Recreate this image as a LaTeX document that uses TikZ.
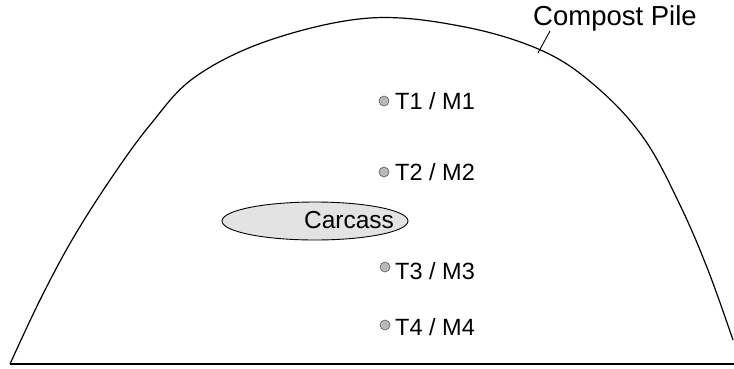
\documentclass[tikz,border=0pt]{standalone}
\usepackage{fontspec}
\setmainfont{Liberation Sans}
\usetikzlibrary{shapes.geometric}
\begin{document}
\begin{tikzpicture}[x=1pt,y=-1pt,
  outline/.style={line width=1.2pt,black},
  probe/.style={circle,inner sep=0pt,minimum size=10pt,fill=gray!55,draw=gray!70!black,line width=0.6pt},
  tlabel/.style={anchor=west,inner sep=0pt,font=\fontsize{23.5}{26}\selectfont},
  carcass/.style={ellipse,draw=black,line width=0.9pt,fill=gray!22,minimum width=186pt,minimum height=38pt,inner sep=0pt},
  carclabel/.style={inner sep=0pt,font=\fontsize{24.5}{27}\selectfont},
  pilelabel/.style={inner sep=0pt,font=\fontsize{27.5}{30}\selectfont}]
\useasboundingbox (0,0) rectangle (734,368);
% base line
\coordinate (bl) at (10,364);
\coordinate (br) at (734,364);
\draw[outline] (bl) -- (br);
% dome
\draw[outline] plot[smooth,tension=0.6] coordinates {(10,364) (40,300) (72,240) (110,180) (150,125) (195,77) (270,40) (370,18) (465,27) (545,52) (600,90) (645,140) (680,205) (708,270) (733,340)};
% compost pile label
\node[pilelabel] (pile) at (615,18) {Compost Pile};
\coordinate (lead1) at (550,31);
\coordinate (lead2) at (538,53);
\draw[line width=0.9pt] (lead1) -- (lead2);
% carcass
\node[carcass] (carc) at (315,221) {};
\node[carclabel] (carct) at (349,220) {Carcass};
% probes
\node[probe] (d1) at (384,101) {};
\node[probe] (d2) at (384,172) {};
\node[probe] (d3) at (385,267) {};
\node[probe] (d4) at (385,325) {};
\node[tlabel] (t1) at (395,101) {T1 / M1};
\node[tlabel] (t2) at (395,172) {T2 / M2};
\node[tlabel] (t3) at (395,271) {T3 / M3};
\node[tlabel] (t4) at (395,327) {T4 / M4};
\end{tikzpicture}
\end{document}
